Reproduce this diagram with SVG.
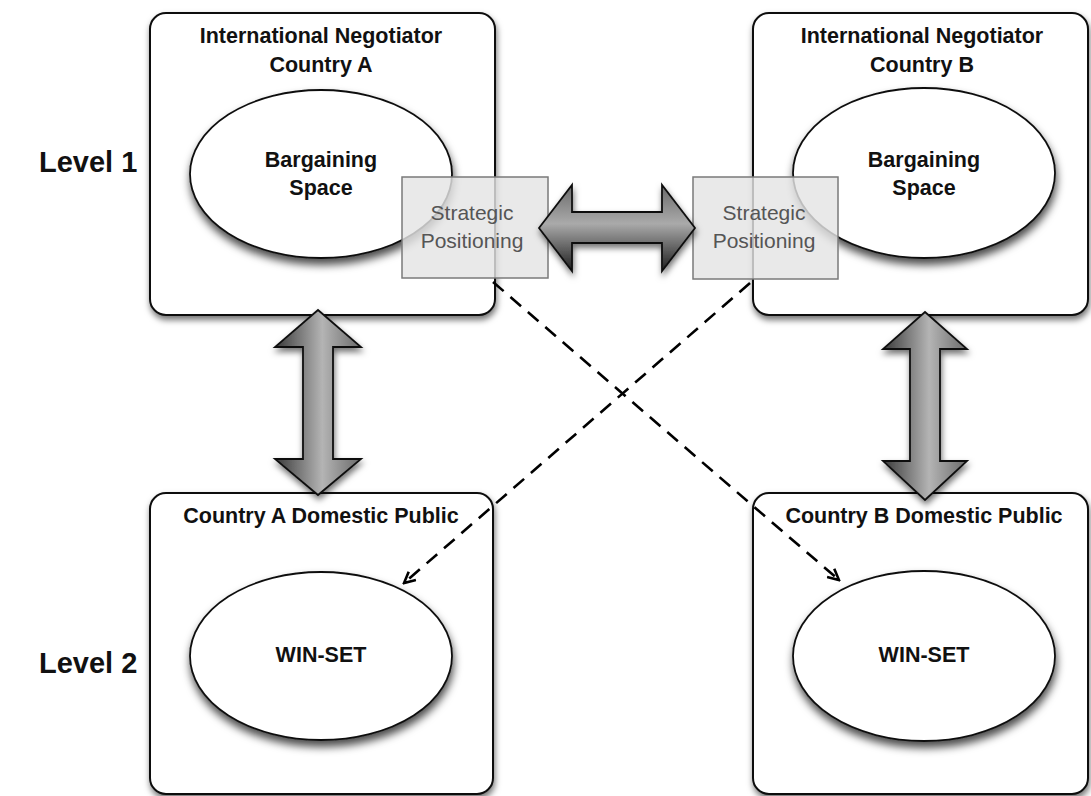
<svg xmlns="http://www.w3.org/2000/svg" width="1091" height="796" viewBox="0 0 1091 796">
<defs>
<filter id="sh" x="-10%" y="-10%" width="125%" height="130%">
<feDropShadow dx="1" dy="4" stdDeviation="3" flood-color="#000" flood-opacity="0.55"/>
</filter>
<filter id="esh" x="-10%" y="-10%" width="125%" height="135%">
<feDropShadow dx="1" dy="6" stdDeviation="4.5" flood-color="#000" flood-opacity="0.7"/>
</filter>
<linearGradient id="gv" x1="0" y1="0" x2="1" y2="0">
<stop offset="0" stop-color="#3a3a3a"/>
<stop offset="0.55" stop-color="#b4b4b4"/>
<stop offset="1" stop-color="#6a6a6a"/>
</linearGradient>
<linearGradient id="gh" x1="0" y1="0" x2="0" y2="1">
<stop offset="0" stop-color="#6a6a6a"/>
<stop offset="0.45" stop-color="#aaaaaa"/>
<stop offset="1" stop-color="#1e1e1e"/>
</linearGradient>
<marker id="open" viewBox="0 0 14 14" refX="12" refY="7" markerWidth="14" markerHeight="14" markerUnits="userSpaceOnUse" orient="auto">
<path d="M1,1.5 L12,7 L1,12.5" fill="none" stroke="#000" stroke-width="2.6"/>
</marker>
<style>
.box{fill:#fff;stroke:#111;stroke-width:2}
.ell{fill:#fff;stroke:#111;stroke-width:1.8}
.t{font-family:"Liberation Sans",Arial,sans-serif;font-weight:bold;font-size:21.5px;fill:#111;text-anchor:middle}
.lv{font-family:"Liberation Sans",Arial,sans-serif;font-weight:bold;font-size:29px;fill:#111}
.sp{fill:#e4e4e4;fill-opacity:0.82;stroke:#7a7a7a;stroke-width:1.5}
.st{font-family:"Liberation Sans",Arial,sans-serif;font-size:21px;fill:#555;text-anchor:middle}
.arr{stroke:#111;stroke-width:1.8;stroke-linejoin:miter}
.dash{fill:none;stroke:#000;stroke-width:2.6;stroke-dasharray:14 9}
</style>
</defs>
<rect width="1091" height="796" fill="#fff"/>

<g id="level1"><text class="lv" x="39" y="172">Level 1</text></g>
<g id="level2"><text class="lv" x="39" y="673">Level 2</text></g>

<g id="negA">
<rect class="box" x="150" y="13" width="345" height="302" rx="16" filter="url(#sh)"/>
<text class="t" x="321" y="43">International Negotiator</text>
<text class="t" x="321" y="72">Country A</text>
</g>
<g id="negB">
<rect class="box" x="753" y="13" width="335" height="302" rx="16" filter="url(#sh)"/>
<text class="t" x="922" y="43">International Negotiator</text>
<text class="t" x="922" y="72">Country B</text>
</g>
<g id="pubA">
<rect class="box" x="150" y="493" width="343" height="301" rx="16" filter="url(#sh)"/>
<text class="t" x="321" y="523">Country A Domestic Public</text>
</g>
<g id="pubB">
<rect class="box" x="753" y="493" width="335" height="301" rx="16" filter="url(#sh)"/>
<text class="t" x="924" y="523">Country B Domestic Public</text>
</g>

<g id="bargA">
<ellipse class="ell" cx="321" cy="174" rx="131" ry="84" filter="url(#esh)"/>
<text class="t" x="321" y="167">Bargaining</text>
<text class="t" x="321" y="195">Space</text>
</g>
<g id="bargB">
<ellipse class="ell" cx="924" cy="173" rx="131" ry="85" filter="url(#esh)"/>
<text class="t" x="924" y="167">Bargaining</text>
<text class="t" x="924" y="195">Space</text>
</g>
<g id="winA">
<ellipse class="ell" cx="321" cy="656" rx="131" ry="84" filter="url(#esh)"/>
<text class="t" x="321" y="662">WIN-SET</text>
</g>
<g id="winB">
<ellipse class="ell" cx="924" cy="656" rx="131" ry="85" filter="url(#esh)"/>
<text class="t" x="924" y="662">WIN-SET</text>
</g>

<g id="stratA">
<rect class="sp" x="402" y="177" width="146" height="101"/>
<text class="st" x="472" y="220">Strategic</text>
<text class="st" x="472" y="248">Positioning</text>
</g>
<g id="stratB">
<rect class="sp" x="693" y="177" width="145" height="102"/>
<text class="st" x="764" y="220">Strategic</text>
<text class="st" x="764" y="248">Positioning</text>
</g>

<g id="connectors">
<path class="arr" fill="url(#gh)" filter="url(#sh)" d="M539,228 L572,185 L572,212 L662,212 L662,185 L695,228 L662,271 L662,243 L572,243 L572,271 Z"/>
<path class="arr" fill="url(#gv)" filter="url(#sh)" d="M318,310 L361,347 L333,347 L333,459 L361,459 L318,495 L275,459 L303,459 L303,347 L275,347 Z"/>
<path class="arr" fill="url(#gv)" filter="url(#sh)" d="M925,312 L967,349 L940,349 L940,461 L967,461 L925,500 L883,461 L910,461 L910,349 L883,349 Z"/>
<line class="dash" x1="493" y1="282" x2="839" y2="580" marker-end="url(#open)"/>
<line class="dash" x1="750" y1="283" x2="404" y2="583" marker-end="url(#open)"/>
</g>
</svg>
